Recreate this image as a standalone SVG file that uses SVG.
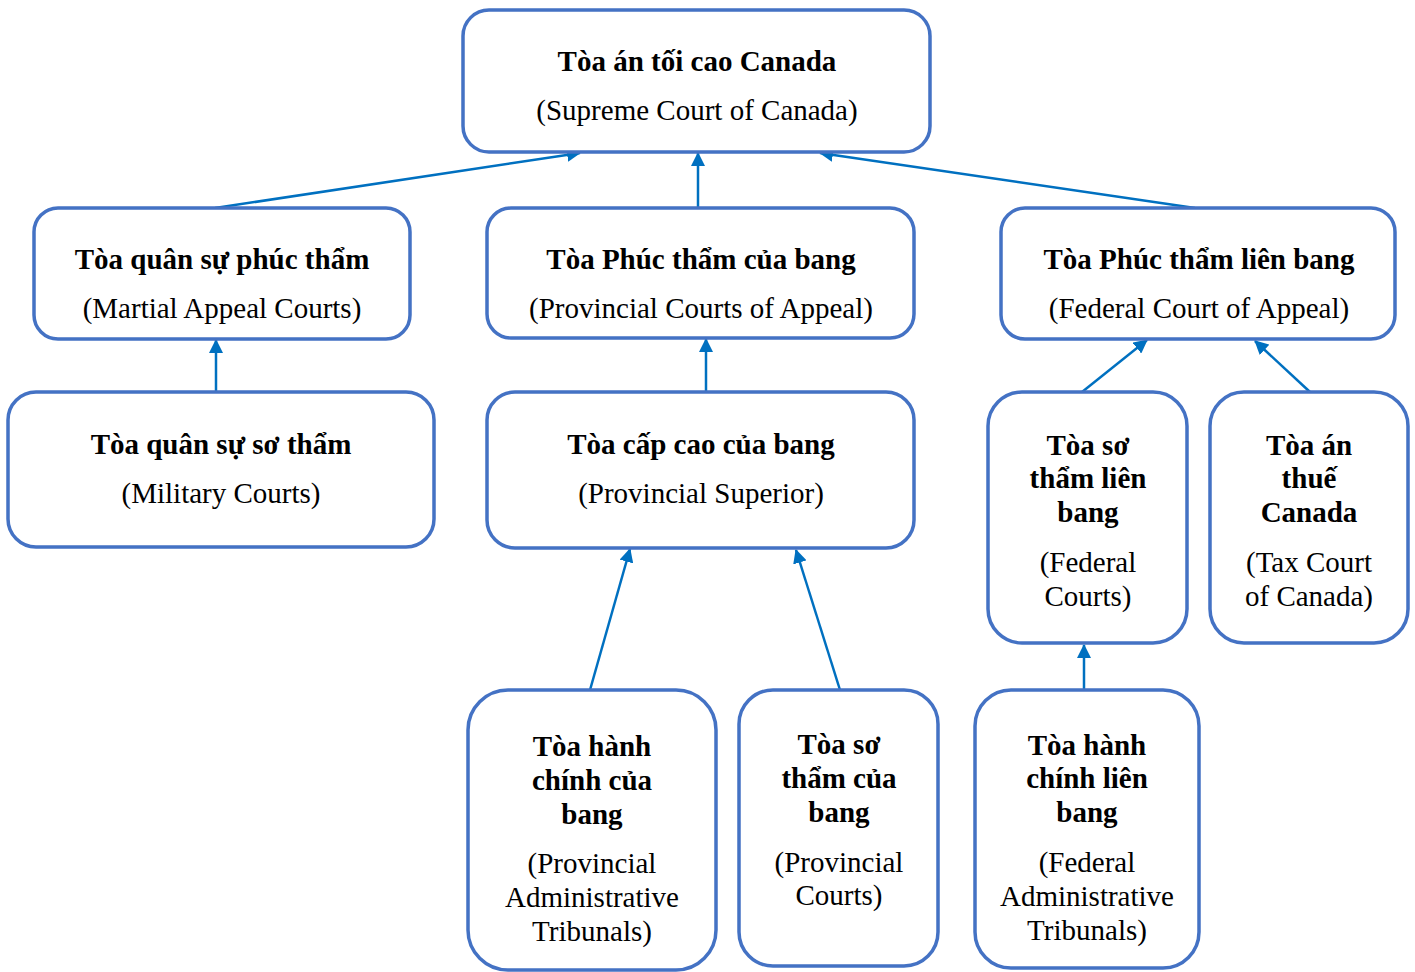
<svg xmlns="http://www.w3.org/2000/svg" width="1415" height="972" viewBox="0 0 1415 972">
<style>
.box{fill:#fff;stroke:#4472C4;stroke-width:3.5}
.t{font-family:"Liberation Serif","Times New Roman",serif;font-size:29px;text-anchor:middle;fill:#000}
.b{font-weight:bold}
.c{stroke:#0070C0;stroke-width:2.5;fill:none;marker-end:url(#ah)}
</style>
<defs>
<marker id="ah" markerUnits="userSpaceOnUse" markerWidth="14" markerHeight="14" viewBox="0 0 14 14" refX="13" refY="7" orient="auto">
<path d="M0,0 L14,7 L0,14 z" fill="#0070C0"/>
</marker>
</defs>
<rect width="1415" height="972" fill="#fff"/>
<g id="connectors">
<line class="c" x1="215" y1="208" x2="580" y2="153"/>
<line class="c" x1="698" y1="208" x2="698" y2="153"/>
<line class="c" x1="1195" y1="208" x2="820" y2="153"/>
<line class="c" x1="216" y1="392" x2="216" y2="340"/>
<line class="c" x1="706" y1="392" x2="706" y2="339"/>
<line class="c" x1="1082" y1="392" x2="1147" y2="340"/>
<line class="c" x1="1310" y1="392" x2="1255" y2="341"/>
<line class="c" x1="590" y1="690" x2="630" y2="549"/>
<line class="c" x1="840" y1="690" x2="796" y2="550"/>
<line class="c" x1="1084" y1="690" x2="1084" y2="645"/>
</g>
<g id="supreme">
<rect class="box" x="463" y="10" width="467" height="142" rx="26"/>
<text class="t b" x="697" y="71">Tòa án tối cao Canada</text>
<text class="t" x="697" y="120">(Supreme Court of Canada)</text>
</g>
<g id="martial-appeal">
<rect class="box" x="34" y="208" width="376" height="131" rx="24"/>
<text class="t b" x="222" y="269">Tòa quân sự phúc thẩm</text>
<text class="t" x="222" y="318">(Martial Appeal Courts)</text>
</g>
<g id="provincial-appeal">
<rect class="box" x="487" y="208" width="427" height="130" rx="24"/>
<text class="t b" x="701" y="269">Tòa Phúc thẩm của bang</text>
<text class="t" x="701" y="318">(Provincial Courts of Appeal)</text>
</g>
<g id="federal-appeal">
<rect class="box" x="1001" y="208" width="394" height="131" rx="24"/>
<text class="t b" x="1199" y="269">Tòa Phúc thẩm liên bang</text>
<text class="t" x="1199" y="318">(Federal Court of Appeal)</text>
</g>
<g id="military">
<rect class="box" x="8" y="392" width="426" height="155" rx="28"/>
<text class="t b" x="221" y="454">Tòa quân sự sơ thẩm</text>
<text class="t" x="221" y="503">(Military Courts)</text>
</g>
<g id="provincial-superior">
<rect class="box" x="487" y="392" width="427" height="156" rx="28"/>
<text class="t b" x="701" y="454">Tòa cấp cao của bang</text>
<text class="t" x="701" y="503">(Provincial Superior)</text>
</g>
<g id="federal-courts">
<rect class="box" x="988" y="392" width="199" height="251" rx="34"/>
<text class="t b" x="1088" y="455">Tòa sơ</text>
<text class="t b" x="1088" y="488">thẩm liên</text>
<text class="t b" x="1088" y="522">bang</text>
<text class="t" x="1088" y="572">(Federal</text>
<text class="t" x="1088" y="606">Courts)</text>
</g>
<g id="tax-court">
<rect class="box" x="1210" y="392" width="198" height="251" rx="34"/>
<text class="t b" x="1309" y="455">Tòa án</text>
<text class="t b" x="1309" y="488">thuế</text>
<text class="t b" x="1309" y="522">Canada</text>
<text class="t" x="1309" y="572">(Tax Court</text>
<text class="t" x="1309" y="606">of Canada)</text>
</g>
<g id="provincial-admin">
<rect class="box" x="468" y="690" width="248" height="280" rx="40"/>
<text class="t b" x="592" y="756">Tòa hành</text>
<text class="t b" x="592" y="790">chính của</text>
<text class="t b" x="592" y="824">bang</text>
<text class="t" x="592" y="873">(Provincial</text>
<text class="t" x="592" y="907">Administrative</text>
<text class="t" x="592" y="941">Tribunals)</text>
</g>
<g id="provincial-courts">
<rect class="box" x="739" y="690" width="199" height="276" rx="34"/>
<text class="t b" x="839" y="754">Tòa sơ</text>
<text class="t b" x="839" y="788">thẩm của</text>
<text class="t b" x="839" y="822">bang</text>
<text class="t" x="839" y="872">(Provincial</text>
<text class="t" x="839" y="905">Courts)</text>
</g>
<g id="federal-admin">
<rect class="box" x="975" y="690" width="224" height="278" rx="36"/>
<text class="t b" x="1087" y="755">Tòa hành</text>
<text class="t b" x="1087" y="788">chính liên</text>
<text class="t b" x="1087" y="822">bang</text>
<text class="t" x="1087" y="872">(Federal</text>
<text class="t" x="1087" y="906">Administrative</text>
<text class="t" x="1087" y="940">Tribunals)</text>
</g>
</svg>
